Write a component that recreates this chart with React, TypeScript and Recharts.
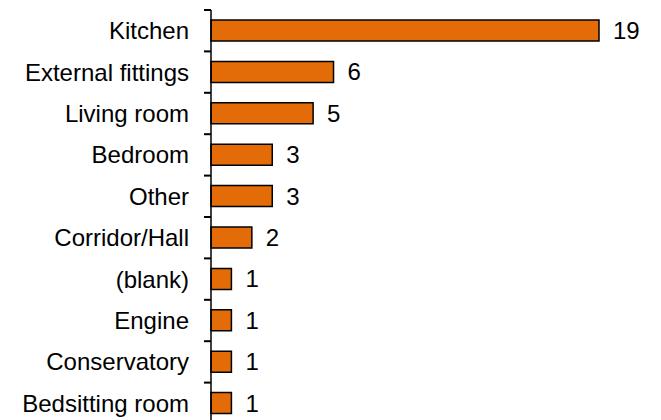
import React from "react";
import { BarChart, Bar, XAxis, YAxis, LabelList } from "recharts";

const categories = [
  "Kitchen",
  "External fittings",
  "Living room",
  "Bedroom",
  "Other",
  "Corridor/Hall",
  "(blank)",
  "Engine",
  "Conservatory",
  "Bedsitting room",
];
const counts = [19, 6, 5, 3, 3, 2, 1, 1, 1, 1];

const data = categories.map((name, i) => ({ name, count: counts[i] }));

const FONT = "'Liberation Sans', Arial, sans-serif";
const AXIS_GAP = 22;
const CHART_W = 661;
const CHART_H = 424;
const TOP = 10;
const BAND_HALF = (CHART_H - TOP) / categories.length / 2;

// category label plus a small tick mark at the band boundaries
const renderCategoryTick = (props: any) => {
  const { x, y, payload, index } = props;
  const ax = Number(x) + AXIS_GAP;
  const cy = Number(y);
  const isLast = index === categories.length - 1;
  return (
    <g key={`tick-${index}`}>
      <rect x={ax - 7} y={cy - BAND_HALF - 1} width={7} height={2} fill="#000" />
      {isLast && (
        <rect x={ax - 7} y={cy + BAND_HALF - 1} width={7} height={2} fill="#000" />
      )}
      <text
        x={x}
        y={y}
        dy="0.355em"
        textAnchor="end"
        fill="#000"
        stroke="none"
        fontSize={24}
        fontFamily={FONT}
      >
        {payload.value}
      </text>
    </g>
  );
};

export default function App() {
  return (
    <div
      style={{
        position: "absolute",
        left: 0,
        top: 0,
        width: 661,
        height: 420,
        overflow: "hidden",
        background: "#fff",
      }}
    >
      <BarChart
        width={CHART_W}
        height={CHART_H}
        data={data}
        layout="vertical"
        margin={{ top: TOP, right: 62, bottom: 0, left: 0 }}
      >
        <XAxis type="number" domain={[0, 19]} hide />
        <YAxis
          type="category"
          dataKey="name"
          width={211}
          axisLine={{ stroke: "#000", strokeWidth: 1.5 }}
          tickLine={false}
          tickSize={0}
          tickMargin={AXIS_GAP}
          interval={0}
          tick={renderCategoryTick}
        />
        <Bar
          dataKey="count"
          fill="#E36C09"
          stroke="#000"
          strokeWidth={1.5}
          barSize={21}
          isAnimationActive={false}
        >
          <LabelList
            dataKey="count"
            position="right"
            offset={14}
            fill="#000"
            fontSize={24}
            fontFamily={FONT}
          />
        </Bar>
      </BarChart>
    </div>
  );
}
